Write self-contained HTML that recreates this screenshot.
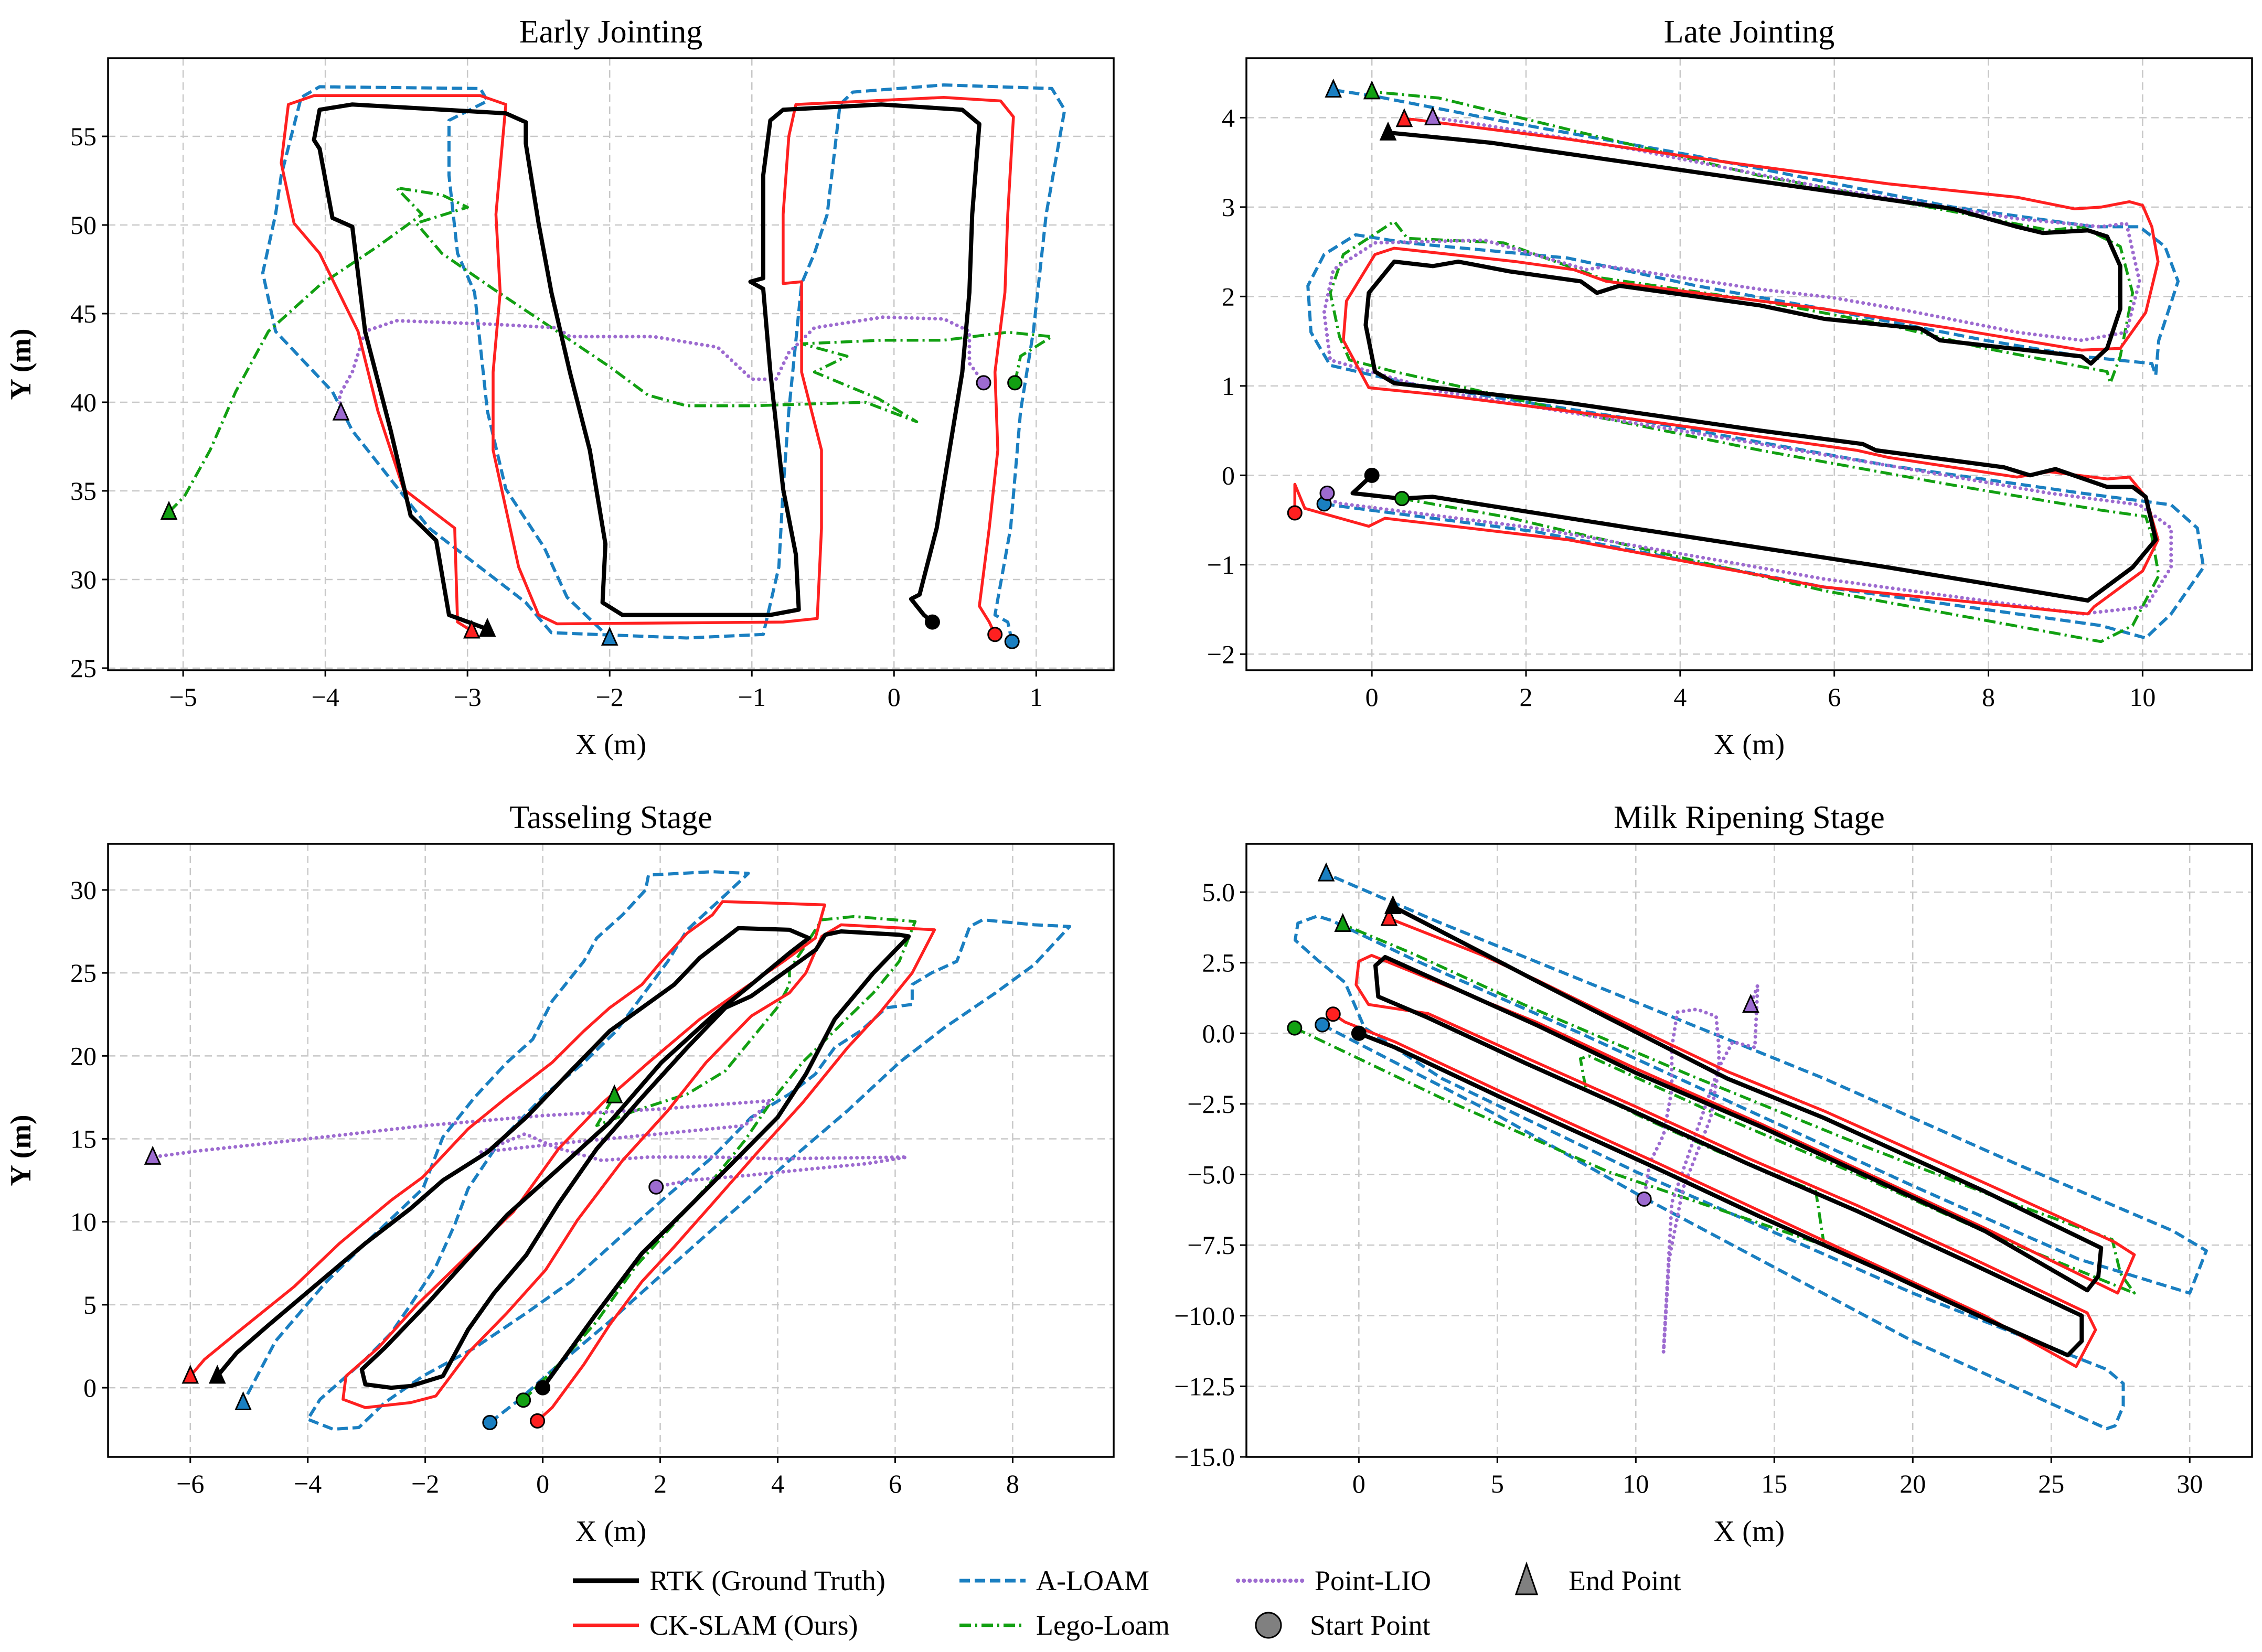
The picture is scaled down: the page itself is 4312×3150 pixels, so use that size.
<!DOCTYPE html>
<html><head><meta charset="utf-8"><style>
html,body{margin:0;padding:0;background:#fff}
svg{display:block}
text{font-family:"Liberation Serif",serif;fill:#000}
</style></head><body>
<svg id="fig" xmlns="http://www.w3.org/2000/svg" width="4312" height="3150" viewBox="0 0 4312 3150"></svg>
<script>
// ---------- Early Jointing data ----------
const ejXTicks=[-5,-4,-3,-2,-1,0,1];
const ejYTicks=[25,30,35,40,45,50,55];
const ejRTK=[[0.27,27.6],[0.21,28.0],[0.12,28.9],[0.18,29.15],[0.3,32.9],[0.39,37.3],[0.48,41.7],[0.53,46.2],[0.55,50.6],[0.6,55.7],[0.48,56.5],[-0.09,56.8],[-0.78,56.5],[-0.87,55.9],[-0.92,52.8],[-0.92,47.0],[-1.01,46.8],[-0.92,46.4],[-0.87,41.7],[-0.78,35.1],[-0.69,31.4],[-0.67,28.3],[-0.87,28.0],[-1.91,28.0],[-2.05,28.7],[-2.03,32.0],[-2.14,37.3],[-2.28,41.7],[-2.41,46.2],[-2.5,50.1],[-2.59,54.6],[-2.59,55.8],[-2.73,56.3],[-3.81,56.8],[-4.04,56.5],[-4.08,54.8],[-4.04,54.3],[-3.95,50.4],[-3.81,49.9],[-3.72,44.0],[-3.54,38.4],[-3.4,33.6],[-3.22,32.2],[-3.13,28.0],[-2.86,27.2]];
const ejCK=[[0.71,26.9],[0.67,27.6],[0.6,28.5],[0.67,32.9],[0.73,37.3],[0.71,41.7],[0.78,46.2],[0.8,50.6],[0.84,56.1],[0.75,57.0],[0.35,57.2],[-0.69,56.8],[-0.74,55],[-0.78,50.6],[-0.78,46.7],[-0.65,46.8],[-0.65,41.7],[-0.51,37.3],[-0.51,32.9],[-0.54,27.8],[-0.78,27.6],[-2.37,27.5],[-2.5,28.0],[-2.64,30.7],[-2.82,37.3],[-2.82,41.7],[-2.77,46.2],[-2.8,50.6],[-2.73,56.8],[-2.91,57.3],[-4.08,57.3],[-4.26,56.8],[-4.31,53.5],[-4.22,50.1],[-4.04,48.4],[-3.77,44.0],[-3.63,39.5],[-3.45,35.1],[-3.09,32.9],[-3.07,27.6],[-2.97,27.1]];
const ejALOAM=[[0.83,26.5],[0.8,27.6],[0.71,28.0],[0.82,32.9],[0.89,39.5],[0.98,44.0],[1.07,50.6],[1.2,56.5],[1.11,57.7],[0.35,57.9],[-0.29,57.5],[-0.38,56.8],[-0.47,50.6],[-0.56,48.4],[-0.65,46.7],[-0.74,39.5],[-0.78,35.1],[-0.81,30.7],[-0.92,26.9],[-1.46,26.7],[-2.41,27.0],[-2.59,28.7],[-3.27,32.9],[-3.81,38.4],[-3.95,40.6],[-4.35,44.0],[-4.44,47.3],[-4.35,50.6],[-4.31,52.8],[-4.17,57.2],[-4.04,57.8],[-2.91,57.7],[-2.86,57.0],[-3.13,55.9],[-3.13,52.8],[-3.07,48.4],[-2.95,46.2],[-2.86,39.5],[-2.73,35.1],[-2.46,31.8],[-2.3,29.0],[-2.0,26.7]];
const ejLego=[[0.85,41.1],[0.89,42.6],[1.11,43.7],[0.8,43.95],[0.35,43.5],[-0.08,43.5],[-0.65,43.3],[-0.33,42.6],[-0.56,41.7],[-0.11,40.2],[0.16,38.9],[-0.2,40.0],[-1.01,39.8],[-1.46,39.8],[-1.73,40.4],[-2.0,42.0],[-2.37,44.0],[-2.82,46.4],[-3.18,48.4],[-3.36,50.1],[-3.0,51.0],[-3.18,51.7],[-3.5,52.1],[-3.32,50.6],[-3.63,48.8],[-4.04,46.6],[-4.4,44.0],[-4.63,40.6],[-4.81,37.3],[-4.99,34.7],[-5.1,33.8]];
const ejPLIO=[[0.63,41.1],[0.53,42.2],[0.53,44.0],[0.35,44.7],[-0.08,44.8],[-0.56,44.2],[-0.74,42.8],[-0.83,41.3],[-1.0,41.3],[-1.24,43.1],[-1.69,43.7],[-2.28,43.7],[-2.37,44.2],[-2.82,44.4],[-3.5,44.6],[-3.72,44.0],[-3.81,41.7],[-3.9,40.4],[-3.89,39.4]];

// ---------- Late Jointing data ----------
const ljXTicks=[0,2,4,6,8,10];
const ljYTicks=[-2,-1,0,1,2,3,4];
const ljRTK=[[0,0],[-0.25,-0.2],[0.37,-0.26],[0.79,-0.24],[3.37,-0.59],[6.7,-1.03],[9.29,-1.4],[9.87,-1.03],[10.17,-0.72],[10.04,-0.24],[9.87,-0.13],[9.54,-0.13],[8.87,0.07],[8.54,0],[8.2,0.09],[6.54,0.28],[6.37,0.35],[5.04,0.5],[2.54,0.81],[0.29,1.03],[0.04,1.16],[-0.08,1.68],[-0.04,2.04],[0.29,2.39],[0.79,2.34],[1.12,2.39],[1.79,2.28],[2.71,2.17],[2.92,2.04],[3.21,2.12],[5.04,1.9],[5.87,1.75],[7.12,1.64],[7.37,1.51],[9.21,1.33],[9.33,1.25],[9.54,1.42],[9.71,1.86],[9.71,2.34],[9.54,2.67],[9.29,2.74],[8.71,2.71],[8.37,2.78],[7.54,2.98],[4.21,3.39],[1.54,3.72],[0.25,3.83],[0.21,3.83]];
const ljCK=[[-1.0,-0.42],[-1.0,-0.1],[-0.87,-0.37],[-0.04,-0.57],[0.17,-0.48],[2.54,-0.72],[5.87,-1.25],[9.29,-1.55],[9.37,-1.47],[10.0,-1.07],[10.2,-0.72],[10.04,-0.24],[9.83,-0.02],[9.54,-0.04],[8.79,0.04],[8.37,-0.02],[6.7,0.2],[6.29,0.28],[3.37,0.63],[0.87,0.9],[-0.04,0.98],[-0.37,1.51],[-0.33,1.95],[0.04,2.47],[0.29,2.54],[1.87,2.39],[2.62,2.3],[3.04,2.17],[4.21,2.04],[5.87,1.86],[7.54,1.64],[9.21,1.4],[9.71,1.42],[10.04,1.82],[10.2,2.39],[10.12,2.78],[10.0,3.02],[9.83,3.06],[9.46,3.0],[9.12,2.98],[8.37,3.11],[6.7,3.26],[4.62,3.5],[2.54,3.76],[0.54,3.98],[0.42,3.98]];
const ljALOAM=[[-0.62,-0.32],[-0.37,-0.35],[2.12,-0.63],[5.87,-1.25],[9.46,-1.68],[10.04,-1.82],[10.37,-1.55],[10.79,-1.03],[10.71,-0.59],[10.37,-0.33],[9.21,-0.2],[6.7,0.11],[3.37,0.63],[0.46,1.03],[-0.54,1.23],[-0.79,1.6],[-0.83,2.12],[-0.62,2.47],[-0.21,2.69],[0.46,2.6],[2.54,2.43],[4.21,2.12],[5.87,1.86],[7.96,1.51],[9.21,1.33],[10.12,1.25],[10.17,1.12],[10.21,1.51],[10.46,2.17],[10.29,2.56],[9.96,2.78],[9.37,2.78],[7.54,3.0],[4.21,3.57],[1.71,3.96],[0.04,4.24],[-0.5,4.31]];
const ljLego=[[0.39,-0.26],[1.71,-0.46],[5.87,-1.29],[9.46,-1.86],[9.87,-1.68],[10.21,-1.12],[10.12,-0.68],[10.04,-0.46],[9.46,-0.39],[7.54,-0.11],[5.04,0.28],[2.54,0.72],[0.29,1.16],[-0.29,1.29],[-0.42,1.55],[-0.54,2.04],[-0.37,2.47],[0.29,2.84],[0.46,2.65],[1.71,2.6],[2.96,2.21],[5.04,1.95],[6.71,1.68],[7.96,1.42],[9.54,1.16],[9.58,1.03],[9.71,1.33],[9.87,2.04],[9.71,2.56],[9.21,2.78],[8.79,2.74],[7.54,2.95],[5.04,3.35],[2.54,3.87],[0.87,4.22],[0,4.29]];
const ljPLIO=[[-0.58,-0.2],[-0.46,-0.31],[2.12,-0.59],[5.87,-1.16],[9.21,-1.55],[10.04,-1.47],[10.37,-1.03],[10.37,-0.59],[9.96,-0.33],[8.79,-0.2],[6.7,0.11],[3.37,0.59],[0.87,0.94],[-0.54,1.29],[-0.62,1.82],[-0.5,2.3],[0.04,2.6],[1.46,2.63],[2.79,2.3],[3.04,2.34],[5.04,2.08],[5.96,1.99],[6.96,1.84],[8.37,1.6],[9.21,1.51],[9.79,1.6],[9.96,2.17],[9.79,2.82],[9.46,2.78],[8.37,2.87],[5.87,3.22],[3.37,3.65],[1.29,3.94],[0.79,4.0]];

// ---------- Tasseling data ----------
const tsXTicks=[-6,-4,-2,0,2,4,6,8];
const tsYTicks=[0,5,10,15,20,25,30];
const tsRTK=[[0,0],[0.9,4.4],[1.69,8.1],[2.46,10.8],[3.33,13.9],[4.0,16.3],[4.48,18.9],[4.97,22.2],[5.63,25],[6.23,27.2],[6.07,27.3],[5.08,27.5],[4.81,27.3],[4.65,26.4],[4.1,25],[3.55,23.6],[3.11,22.9],[2.46,20.5],[1.69,17.5],[0.92,14.4],[0.27,11.1],[-0.28,8.0],[-0.83,5.7],[-1.27,3.5],[-1.7,0.7],[-2.25,0.1],[-2.58,0],[-3.02,0.2],[-3.08,1.1],[-2.69,2.4],[-1.93,5.2],[-1.27,7.8],[-0.61,10.4],[0.27,13.2],[1.14,16.0],[2.02,19.6],[2.89,22.4],[3.55,24.3],[4.2,26.2],[4.53,27.1],[4.2,27.6],[3.33,27.7],[3.11,27.1],[2.67,25.9],[2.24,24.3],[1.69,22.9],[1.14,21.5],[0.48,19.1],[-0.28,16.3],[-0.94,14.2],[-1.7,12.5],[-2.25,10.8],[-3.02,8.7],[-3.79,6.4],[-4.66,3.8],[-5.21,2.1],[-5.54,0.7]];
const tsCK=[[-0.09,-2.0],[0.16,-1.2],[0.7,1.4],[1.14,3.8],[1.69,6.4],[2.24,8.5],[2.89,11.1],[3.66,14.2],[4.43,17.2],[5.19,20.5],[5.74,22.6],[6.29,25.0],[6.67,27.6],[5.08,27.9],[4.75,27.2],[4.48,25],[4.2,23.8],[3.55,22.4],[2.78,19.6],[2.13,16.7],[1.36,13.7],[0.59,10.1],[0.05,7.1],[-0.61,4.5],[-1.27,2.1],[-1.82,-0.5],[-2.25,-0.9],[-3.02,-1.2],[-3.4,-0.7],[-3.35,0.7],[-2.8,2.4],[-2.14,5.0],[-1.27,8.0],[-0.5,10.6],[0.27,14.4],[1.03,17.2],[1.8,19.6],[2.67,22.2],[3.44,24.1],[4.1,25.7],[4.64,27.1],[4.8,29.1],[3.99,29.2],[3.06,29.3],[2.89,28.5],[2.46,27.4],[2.02,25.7],[1.69,24.3],[1.14,22.9],[0.7,21.5],[0.16,19.6],[-0.61,17.5],[-1.27,15.6],[-2.04,12.7],[-2.58,11.3],[-3.46,8.7],[-4.23,6.1],[-5.21,3.3],[-5.76,1.7],[-6.0,0.7]];
const tsALOAM=[[-0.9,-2.1],[-0.39,-0.7],[0.27,1.4],[1.14,4.0],[2.02,6.8],[2.78,9.2],[3.55,11.6],[4.2,13.7],[5.19,16.7],[6.07,19.6],[6.84,21.7],[7.71,23.8],[8.37,25.5],[8.97,27.8],[8.37,27.9],[7.49,28.2],[7.27,27.8],[7.05,25.7],[6.62,25],[6.29,24.3],[6.29,23.1],[5.85,22.9],[5.41,21.5],[4.97,20.5],[4.64,18.9],[4.2,17.7],[3.55,16.3],[2.89,13.9],[2.13,11.6],[1.36,9.2],[0.48,6.4],[-0.28,4.5],[-1.16,2.4],[-2.04,0.7],[-2.69,-0.9],[-3.13,-2.4],[-3.57,-2.5],[-4.0,-1.9],[-3.79,-0.7],[-3.02,1.7],[-2.58,3.3],[-2.25,5.0],[-1.82,7.3],[-1.49,9.9],[-1.27,12.0],[-0.72,14.9],[0.05,17.7],[0.7,19.6],[1.25,21.5],[1.69,23.6],[2.13,25.7],[2.46,27.6],[3.11,29.7],[3.5,31.0],[2.89,31.1],[1.8,30.9],[1.75,30.0],[1.36,28.5],[0.92,27.1],[0.7,25.7],[0.16,23.3],[-0.17,21],[-0.61,19.6],[-1.16,17.5],[-1.7,15.1],[-2.04,12.0],[-3.02,8.7],[-3.68,6.4],[-4.55,2.8],[-5.1,-0.9]];
const tsLego=[[-0.33,-0.75],[0.27,1.4],[0.92,4.0],[1.58,7.3],[2.24,9.9],[2.89,12.5],[3.44,14.9],[3.88,17.2],[4.42,19.6],[5.08,21.9],[5.63,23.8],[6.07,25.7],[6.34,28.1],[5.3,28.4],[4.75,28.2],[4.48,26.7],[4.2,25.2],[4.2,24.3],[3.99,22.9],[3.55,21],[3.11,19.1],[2.46,17.7],[1.58,16.7],[0.92,15.8],[1.22,17.6]];
const tsPLIO=[[1.93,12.1],[2.5,12.5],[3.5,12.8],[4.6,13.2],[5.5,13.5],[6.2,13.9],[4.0,13.8],[2.9,13.9],[1.8,13.9],[1.0,13.7],[0.2,14.5],[-0.3,15.3],[-1.05,14.2],[0.5,14.8],[2.0,15.3],[3.44,15.8],[3.88,17.3],[2.0,16.8],[0.0,16.4],[-2.0,15.8],[-4.0,15.0],[-5.8,14.3],[-6.64,13.9]];

// ---------- Milk Ripening data ----------
const mrXTicks=[0,5,10,15,20,25,30];
const mrYTicks=[-15,-12.5,-10,-7.5,-5,-2.5,0,2.5,5];
const mrRTK=[[0,0],[1.3,-0.5],[5.2,-2.3],[10.8,-4.8],[14.5,-6.5],[19.1,-8.5],[22.6,-10.1],[25.6,-11.4],[26.1,-10.9],[26.1,-10.0],[22,-8.1],[18,-6.3],[14,-4.6],[10,-2.8],[6,-1.05],[2.5,0.55],[0.7,1.3],[0.6,2.4],[0.95,2.7],[6.4,0.3],[10,-1.4],[14.5,-3.3],[19.1,-5.4],[22.6,-7.0],[26.3,-9.1],[26.7,-8.6],[26.8,-7.6],[22.6,-5.6],[16.8,-3.0],[13.3,-1.6],[8.9,0.6],[6.4,1.86],[4.5,2.83],[1.23,4.49]];
const mrCK=[[-0.93,0.68],[-0.5,0.4],[1.3,-0.3],[5.2,-2.1],[10.8,-4.6],[14.5,-6.3],[19.1,-8.4],[22.6,-10.0],[25.9,-11.8],[26.6,-10.5],[26.3,-9.9],[22,-7.9],[18,-6.1],[14,-4.4],[10,-2.6],[6,-0.85],[2.5,0.7],[0.35,1.02],[-0.1,1.72],[0,2.55],[0.46,2.76],[6.4,0.4],[10,-1.25],[14.5,-3.2],[19.1,-5.3],[22.6,-6.9],[27.4,-9.2],[28.0,-7.84],[27.3,-7.4],[22.6,-5.3],[16.8,-2.75],[13.3,-1.35],[8.9,0.7],[6.4,1.9],[4.5,2.75],[1.09,4.07]];
const mrALOAM=[[-1.32,0.3],[5,-2.9],[10.3,-5.83],[20,-10.9],[27.0,-14.0],[27.3,-13.9],[27.6,-13.2],[27.6,-12.4],[27.0,-11.9],[20,-9.2],[10,-4.9],[3,-1.6],[0.2,0.2],[-0.5,1.8],[-1.5,2.6],[-2.3,3.3],[-2.2,3.9],[-1.5,4.15],[-1.0,4.0],[2,2.6],[8,0],[14,-2.7],[20,-5.4],[26,-8.0],[30.0,-9.2],[30.6,-7.7],[29.4,-7.0],[23.8,-4.65],[16.8,-1.6],[9.86,1.16],[2.9,3.93],[-1.18,5.65]];
const mrLego=[[-2.32,0.19],[3,-2.3],[9,-4.9],[16.8,-7.5],[16.5,-5.6],[13,-4.2],[10.3,-3.0],[8.2,-2.0],[8.0,-0.9],[8.3,-0.8],[13,-2.9],[18,-5.0],[23,-7.2],[28,-9.2],[27.5,-8.5],[27.2,-7.3],[23,-5.8],[18,-3.9],[12,-1.5],[6,1.0],[2,2.8],[-0.58,3.86]];
const mrPLIO=[[10.3,-5.87],[10.5,-4.6],[11.0,-3.6],[11.3,-2.0],[11.3,-0.5],[11.5,0.75],[12.2,0.85],[12.9,0.6],[13.0,-0.5],[13.0,-1.2],[12.7,-3.0],[11.7,-5.5],[11.2,-8],[11.0,-11.3],[11.3,-6],[13.0,-1.2],[13.5,-0.3],[14.3,-0.5],[14.4,1.7],[14.15,1.0]];

// ---------- rendering ----------
const NS='http://www.w3.org/2000/svg';
const svg=document.getElementById('fig');
function mk(tag,attrs,parent){const e=document.createElementNS(NS,tag);for(const k in attrs)e.setAttribute(k,attrs[k]);(parent||svg).appendChild(e);return e;}
const STY={
 rtk:{c:'#000000',w:8,d:null},
 ck:{c:'#ff2020',w:5.5,d:null},
 aloam:{c:'#1a7fc1',w:6,d:'20,9'},
 lego:{c:'#12a012',w:5.5,d:'22,8,4,8'},
 plio:{c:'#9d6bd0',w:7,d:'0.1,11'}
};
function fmt(v,dec){const s=dec?v.toFixed(1):String(v);return s.replace('-','\u2212');}
function panel(id,title,box,xr,yr,xt,yt,dec,showY,series){
 const g=mk('g',{});
 
 
 const sx=v=>box.l+(v-xr[0])/(xr[1]-xr[0])*(box.r-box.l);
 const sy=v=>box.b-(v-yr[0])/(yr[1]-yr[0])*(box.b-box.t);
 const cp=mk('clipPath',{id:'cp-'+id},g);mk('rect',{x:box.l,y:box.t,width:box.r-box.l,height:box.b-box.t},cp);
 const grid=mk('g',{stroke:'#c8c8c8','stroke-width':2.5,'stroke-dasharray':'14,9'},g);
 
 xt.forEach(v=>{mk('line',{x1:sx(v),x2:sx(v),y1:box.t,y2:box.b},grid);});
 yt.forEach(v=>{mk('line',{x1:box.l,x2:box.r,y1:sy(v),y2:sy(v)},grid);});
 const plot=mk('g',{'clip-path':'url(#cp-'+id+')'},g);
 const order=['aloam','lego','plio','ck','rtk'];
 order.forEach(k=>{
  const pts=series[k];const s=STY[k];
  const p=mk('polyline',{points:pts.map(q=>sx(q[0]).toFixed(1)+','+sy(q[1]).toFixed(1)).join(' '),fill:'none',stroke:s.c,'stroke-width':s.w,'stroke-linejoin':'round','stroke-linecap':k==='plio'?'round':'butt'},plot);
  if(s.d)p.setAttribute('stroke-dasharray',s.d);
  
  
 });
 order.forEach(k=>{
  const pts=series[k];const s=STY[k];
  const a=pts[0],z=pts[pts.length-1];
  const c=mk('circle',{cx:sx(a[0]),cy:sy(a[1]),r:13,fill:s.c,stroke:'#000','stroke-width':3},g);
  
  
  const X=sx(z[0]),Y=sy(z[1]);
  const t=mk('polygon',{points:`${X},${Y-18} ${X-14},${Y+13} ${X+14},${Y+13}`,fill:s.c,stroke:'#000','stroke-width':3,'stroke-linejoin':'miter'},g);
  
  
 });
 const fr=mk('rect',{x:box.l,y:box.t,width:box.r-box.l,height:box.b-box.t,fill:'none',stroke:'#000','stroke-width':3.5},g);
 
 xt.forEach(v=>{
  mk('line',{x1:sx(v),x2:sx(v),y1:box.b,y2:box.b+12,stroke:'#000','stroke-width':3},g);
  const t=mk('text',{x:sx(v),y:box.b+68,'text-anchor':'middle','font-size':50},g);t.textContent=fmt(v,false);
  
 });
 yt.forEach(v=>{
  mk('line',{x1:box.l-12,x2:box.l,y1:sy(v),y2:sy(v),stroke:'#000','stroke-width':3},g);
  const t=mk('text',{x:box.l-22,y:sy(v)+17,'text-anchor':'end','font-size':50},g);t.textContent=fmt(v,dec);
  
 });
 const tt=mk('text',{x:(box.l+box.r)/2,y:box.t-30,'text-anchor':'middle','font-size':62},g);tt.textContent=title;
 
 const xl=mk('text',{x:(box.l+box.r)/2,y:box.b+160,'text-anchor':'middle','font-size':56},g);xl.textContent='X (m)';
 
 if(showY){
  const cy=(box.t+box.b)/2;
  const yl=mk('text',{x:58,y:cy,'text-anchor':'middle','font-size':56,'font-weight':'bold',transform:`rotate(-90 58 ${cy})`},g);yl.textContent='Y (m)';
  
 }
}
panel('early-jointing','Early Jointing',{l:206,r:2123,t:111,b:1278},[-5.528,1.545],[24.88,59.41],ejXTicks,ejYTicks,false,true,{rtk:ejRTK,ck:ejCK,aloam:ejALOAM,lego:ejLego,plio:ejPLIO});
panel('late-jointing','Late Jointing',{l:2376,r:4293,t:111,b:1278},[-1.628,11.42],[-2.18,4.665],ljXTicks,ljYTicks,false,false,{rtk:ljRTK,ck:ljCK,aloam:ljALOAM,lego:ljLego,plio:ljPLIO});
panel('tasseling','Tasseling Stage',{l:206,r:2123,t:1609,b:2778},[-7.40,9.72],[-4.17,32.78],tsXTicks,tsYTicks,false,true,{rtk:tsRTK,ck:tsCK,aloam:tsALOAM,lego:tsLego,plio:tsPLIO});
panel('milk-ripening','Milk Ripening Stage',{l:2376,r:4293,t:1609,b:2778},[-4.06,32.25],[-15.0,6.71],mrXTicks,mrYTicks,true,false,{rtk:mrRTK,ck:mrCK,aloam:mrALOAM,lego:mrLego,plio:mrPLIO});

// legend
const lg=mk('g',{});


const entries=[
 {k:'rtk',x:1092,y:3014,label:'RTK (Ground Truth)'},
 {k:'ck',x:1092,y:3099,label:'CK-SLAM (Ours)'},
 {k:'aloam',x:1829,y:3014,label:'A-LOAM'},
 {k:'lego',x:1829,y:3099,label:'Lego-Loam'},
 {k:'plio',x:2360,y:3014,label:'Point-LIO'}
];
entries.forEach(e=>{
 const s=STY[e.k];
 const l=mk('line',{x1:e.x,x2:e.x+126,y1:e.y,y2:e.y,stroke:s.c,'stroke-width':s.w+1,'stroke-linecap':e.k==='plio'?'round':'butt'},lg);
 if(s.d)l.setAttribute('stroke-dasharray',s.d);
 
 
 const t=mk('text',{x:e.x+146,y:e.y+18,'font-size':54},lg);t.textContent=e.label;
 
 
});
const tri=mk('polygon',{points:'2910,2982 2890,3040 2930,3040',fill:'#808080',stroke:'#000','stroke-width':3},lg);


const t1=mk('text',{x:2990,y:3032,'font-size':54},lg);t1.textContent='End Point';


const cir=mk('circle',{cx:2418,cy:3099,r:24,fill:'#808080',stroke:'#000','stroke-width':3},lg);


const t2=mk('text',{x:2497,y:3117,'font-size':54},lg);t2.textContent='Start Point';


</script>
</body></html>
